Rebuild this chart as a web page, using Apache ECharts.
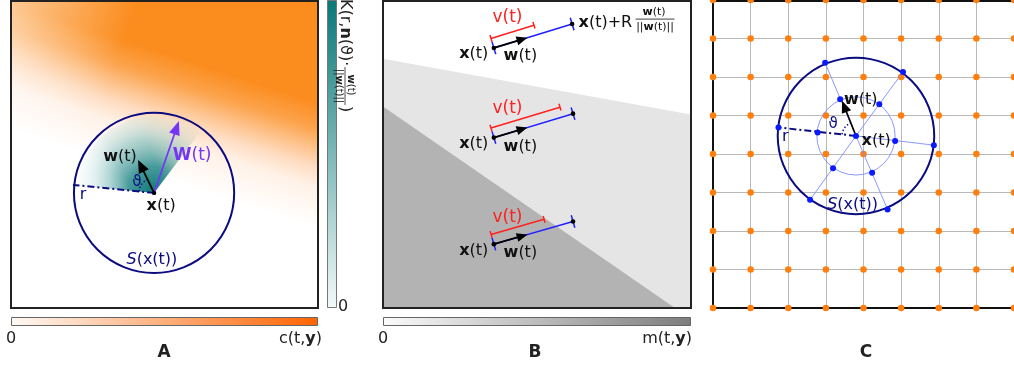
<!DOCTYPE html>
<html><head><meta charset="utf-8">
<script src="https://cdn.jsdelivr.net/npm/echarts@6/dist/echarts.min.js"></script>
<style>html,body{margin:0;padding:0;background:#fff}#c{width:1014px;height:365px}</style>
</head><body><div id="c"></div>
<script>
// ================= DATA =================
// Panel A (box axes 0..10 x 0..10)
const aCenter = [4.66, 3.75];
const aRadius = 2.61;
const aREnd = [2.02, 4.01];
const aWTip = [4.14, 4.82];       // w(t)
const aBigWTip = [5.47, 6.09];    // W(t)
const aWedgeEdge = 53;            // degrees, right edge of kernel wedge
const aWedgeRadius = 2.5;
// Panel B (box axes 0..10 x 0..10)
const bLightPoly = [[0,0],[0,8.12],[10,6.30],[10,0]];
const bDarkPoly = [[0,0],[0,6.56],[9.48,0]];
const bOrigins = [[3.60,8.47],[3.60,5.55],[3.60,2.08]];
const bEnds = [[6.14,9.25],[6.17,6.33],[6.17,2.82]];
const bVLengths = [1.46, 2.34, 1.79];
const bWLength = 1.14;
// Panel C (grid axes 0..8 x 0..8)
const cGridX = [0,1,2,3,4,5,6,7,8];
const cGridY = [0,1,2,3,4,5,6,7,8];
const cCenter = [3.80, 4.47];
const cOuterR = 2.08, cInnerR = 1.04;
const cInner = [[3.38,5.42],[4.42,5.29],[4.84,4.34],[4.23,3.51],[3.19,3.63],[2.78,4.56]];
const cOuter = [[2.98,6.37],[5.05,6.13],[5.87,4.23],[4.64,2.56],[2.58,2.81],[1.74,4.69]];
const cWTip = [3.43, 5.38];
// Texts
const labelW = '{b|w}{n|(t)}';
const labelBigW = '{b|W}{n|(t)}';
const labelX = '{b|x}{n|(t)}';
const labelV = 'v(t)';
const labelS = '{i|S}{n|(x(t))}';

// ================= HELPERS =================
const FONT = 'DejaVu Sans';
const NAVY = '#0b0b82';
function rich(color, size){
  return {
    b:{fontWeight:'bold',fill:color,fontSize:size,fontFamily:FONT},
    n:{fill:color,fontSize:size,fontFamily:FONT},
    i:{fontStyle:'italic',fill:color,fontSize:size,fontFamily:FONT}
  };
}
function txtStyle(text, color, size, align){
  return {text, fill:color, fontSize:size, fontFamily:FONT, align:align||'center', verticalAlign:'middle', rich:rich(color,size)};
}
function seg(p0,p1,stroke,lw,dash){
  return {type:'line',shape:{x1:p0[0],y1:p0[1],x2:p1[0],y2:p1[1]},style:{stroke,lineWidth:lw,lineDash:dash||null,fill:null}};
}
function dot(p,r,fill){ return {type:'circle',shape:{cx:p[0],cy:p[1],r},style:{fill}}; }
function arrowEls(p0,p1,color,lw,hl,hw){
  const dx=p1[0]-p0[0], dy=p1[1]-p0[1], L=Math.hypot(dx,dy), ux=dx/L, uy=dy/L;
  const bx=p1[0]-ux*hl, by=p1[1]-uy*hl;
  return [
    seg(p0,[bx+ux*2,by+uy*2],color,lw),
    {type:'polygon',shape:{points:[[p1[0],p1[1]],[bx-uy*hw/2,by+ux*hw/2],[bx+uy*hw/2,by-ux*hw/2]]},style:{fill:color}}
  ];
}
function ang(c,p){ return Math.atan2(p[1]-c[1], p[0]-c[0]); }
function custom(gi, data, renderItem, z){
  return {type:'custom',coordinateSystem:'cartesian2d',xAxisIndex:gi,yAxisIndex:gi,silent:true,z:z||2,clip:false,data,renderItem};
}
function labelSeries(gi, items){
  return custom(gi, items.map((it,i)=>[it.at[0],it.at[1],i]), (params,api)=>{
    const it = items[api.value(2)];
    const p = api.coord([api.value(0),api.value(1)]);
    return {type:'text',x:p[0],y:p[1],style:txtStyle(it.text,it.color||'#111',it.size||16,it.align)};
  }, 5);
}
function borderSeries(gi, color){
  return custom(gi, [[0,0]], (params,api)=>{
    const cs = params.coordSys;
    return {type:'rect',shape:{x:cs.x,y:cs.y,width:cs.width,height:cs.height},style:{fill:null,stroke:color,lineWidth:2}};
  }, 4);
}

// ================= SERIES =================
const series = [];
// ---- Panel A ----
series.push(custom(0, [[0,0]], (params,api)=>{
  const p0 = api.coord([0,10]), p1 = api.coord([10,0]);
  const shape = {x:p0[0],y:p0[1],width:p1[0]-p0[0],height:p1[1]-p0[1]};
  const cx = p0[0]+224, cy = p0[1]+54;          // field reference point
  const vx = -0.309, vy = 0.951, ux = 0.951, uy = 0.309;
  return {type:'group',children:[
    {type:'rect',shape,style:{fill:{type:'linear',global:true,x:cx+vx*140,y:cy+vy*140,x2:cx+vx*20,y2:cy+vy*20,colorStops:[
      {offset:0,color:'#ffffff'},{offset:0.33,color:'#fff1e6'},{offset:0.49,color:'#fedcc0'},{offset:0.625,color:'#fdc38d'},{offset:0.79,color:'#fca34c'},{offset:1,color:'#fb8d1f'}]}}},
    {type:'rect',shape,style:{fill:{type:'linear',global:true,x:cx-ux*250,y:cy-uy*250,x2:cx-ux*110,y2:cy-uy*110,colorStops:[
      {offset:0,color:'rgba(255,255,255,0.62)'},{offset:1,color:'rgba(255,255,255,0)'}]}}}
  ]};
}));
// kernel wedge
series.push(custom(0, [[aCenter[0],aCenter[1],aWedgeRadius]], (params,api)=>{
  const c = api.coord([api.value(0),api.value(1)]);
  const R = api.size([api.value(2),0])[0];
  const aStart = ang(c, api.coord(aREnd));
  const aEnd = -aWedgeEdge*Math.PI/180;
  const aW = ang(c, api.coord(aWTip));
  const shape = {cx:c[0],cy:c[1],r0:0,r:R,startAngle:aStart,endAngle:aEnd,clockwise:true};
  const eW = [Math.cos(aW),Math.sin(aW)];
  let nL = [-eW[1],eW[0]];
  const eL = [Math.cos(aStart),Math.sin(aStart)];
  if (nL[0]*eL[0]+nL[1]*eL[1] < 0) nL = [-nL[0],-nL[1]];
  const nR = [-nL[0],-nL[1]];
  const lin = (n,d0,d1,c0,c1)=>({type:'linear',global:true,x:c[0]+n[0]*d0,y:c[1]+n[1]*d0,x2:c[0]+n[0]*d1,y2:c[1]+n[1]*d1,
      colorStops:[{offset:0,color:c0},{offset:1,color:c1}]});
  return {type:'group',children:[
    {type:'sector',shape,style:{fill:{type:'radial',x:c[0],y:c[1],r:R,global:true,colorStops:[
      {offset:0,color:'rgba(12,120,120,1)'},{offset:0.35,color:'rgba(40,138,138,0.85)'},{offset:0.7,color:'rgba(110,180,178,0.55)'},{offset:1,color:'rgba(190,225,222,0.25)'}]}}},
    {type:'sector',shape,style:{fill:lin(nL,R*0.25,R*0.95,'rgba(255,255,255,0)','rgba(255,255,255,0.85)')}},
    {type:'sector',shape,style:{fill:lin(nR,R*0.2,R*0.8,'rgba(252,225,200,0)','rgba(252,225,200,0.55)')}}
  ]};
}));
// circle, r line, theta arc, arrows, center dot
series.push(custom(0, [[aCenter[0],aCenter[1],aRadius]], (params,api)=>{
  const c = api.coord([api.value(0),api.value(1)]);
  const R = api.size([api.value(2),0])[0];
  const rEnd = api.coord(aREnd), wT = api.coord(aWTip), WT = api.coord(aBigWTip);
  const a0 = ang(c,rEnd), a1 = ang(c,wT);
  return {type:'group',children:[
    {type:'circle',shape:{cx:c[0],cy:c[1],r:R},style:{fill:null,stroke:NAVY,lineWidth:2}},
    seg(c,rEnd,NAVY,2,[7,3,2,3]),
    {type:'arc',shape:{cx:c[0],cy:c[1],r:15,startAngle:a0,endAngle:a1,clockwise:true},style:{stroke:NAVY,lineWidth:1.4,lineDash:[1.5,2],fill:null}},
    ...arrowEls(c,WT,'#7436f5',1.6,14,11),
    ...arrowEls(c,wT,'#000000',1.8,13,11),
    dot(c,2.2,'#000')
  ]};
}, 3));
series.push(borderSeries(0,'#222'));
series.push(labelSeries(0,[
  {at:[3.55,4.92],text:labelW},
  {at:[5.90,4.95],text:labelBigW,color:'#7436f5',size:17},
  {at:[4.89,3.32],text:labelX},
  {at:[2.35,3.68],text:'r',color:NAVY},
  {at:[4.10,4.10],text:'ϑ',color:NAVY,size:15},
  {at:[4.59,1.56],text:labelS,color:NAVY,size:16}
]));

// ---- Panel B ----
series.push(custom(1, [[0,0]], (params,api)=>{
  const poly = (pts,fill)=>({type:'polygon',shape:{points:pts.map(p=>api.coord(p))},style:{fill}});
  return {type:'group',children:[poly(bLightPoly,'#e5e5e5'),poly(bDarkPoly,'#b3b3b3')]};
}));
series.push(custom(1, bOrigins.map((o,i)=>[o[0],o[1],bEnds[i][0],bEnds[i][1],bVLengths[i],bWLength]), (params,api)=>{
  const o = api.coord([api.value(0),api.value(1)]);
  const e = api.coord([api.value(2),api.value(3)]);
  const vPx = api.size([api.value(4),0])[0];
  const wPx = api.size([api.value(5),0])[0];
  const dx=e[0]-o[0], dy=e[1]-o[1], L=Math.hypot(dx,dy), ux=dx/L, uy=dy/L;
  const nx=uy, ny=-ux;
  const BL='#1f1fff', RD='#ff2020';
  const tick=(p,h,col)=>seg([p[0]-nx*h,p[1]-ny*h],[p[0]+nx*h,p[1]+ny*h],col,1.5);
  const rs=[o[0]+nx*10,o[1]+ny*10], re=[rs[0]+ux*vPx, rs[1]+uy*vPx];
  return {type:'group',children:[
    seg(o,e,BL,1.5), tick(o,6.5,BL), tick(e,6.5,BL),
    seg(rs,re,RD,1.5), tick(rs,3.5,RD), tick(re,3.5,RD),
    ...arrowEls(o,[o[0]+ux*wPx,o[1]+uy*wPx],'#000',1.8,11,9),
    dot(o,2.3,'#000'), dot(e,2.3,'#000')
  ]};
}, 3));
series.push(custom(1, [[6.35,9.28]], (params,api)=>{
  const p = api.coord([api.value(0),api.value(1)]);
  return {type:'group',children:[
    {type:'text',x:p[0],y:p[1],style:txtStyle('{b|x}{n|(t)+R}','#111',16,'left')},
    {type:'text',x:p[0]+75.5,y:p[1]-11,style:txtStyle('{b|w}{n|(t)}','#111',11,'center')},
    seg([p[0]+57,p[1]-4],[p[0]+96,p[1]-4],'#111',0.8),
    {type:'text',x:p[0]+76.5,y:p[1]+4.5,style:txtStyle('{n|||}{b|w}{n|(t)||}','#111',11,'center')}
  ]};
}, 5));
series.push(borderSeries(1,'#222'));
const bLab = [];
const bLabY = [[8.27,8.21,9.45],[5.34,5.24,6.48],[1.86,1.79,2.96]];
bLabY.forEach(r=>{
  bLab.push({at:[3.42,r[0]],text:labelX,align:'right'});
  bLab.push({at:[4.46,r[1]],text:labelW});
  bLab.push({at:[4.04,r[2]],text:labelV,color:'#ff2020',size:17});
});
series.push(labelSeries(1,bLab));

// ---- Panel C ----
series.push(custom(2, [[0,0]], (params,api)=>{
  const cs = params.coordSys;
  const L=cs.x, T=cs.y+1, B=cs.y+cs.height;
  return {type:'group',children:[
    seg([L,T],[L,B+1],'#111',2), seg([L-1,B],[cs.x+cs.width,B],'#111',2), seg([L-1,T],[cs.x+cs.width,T],'#111',2)
  ]};
}, 2));
const cDots = [];
cGridX.forEach(x=>cGridY.forEach(y=>cDots.push([x,y])));
series.push({type:'scatter',xAxisIndex:2,yAxisIndex:2,data:cDots,symbolSize:6.5,itemStyle:{color:'#ff7f0e',opacity:1},silent:true,z:3,clip:false});
series.push(custom(2, [[cCenter[0],cCenter[1],cOuterR,cInnerR]], (params,api)=>{
  const c = api.coord([api.value(0),api.value(1)]);
  const R = api.size([api.value(2),0])[0], r = api.size([api.value(3),0])[0];
  const outs = cOuter.map(p=>api.coord(p)), ins = cInner.map(p=>api.coord(p));
  const wT = api.coord(cWTip);
  const LB = '#7d8cff';
  const ch = [];
  ch.push({type:'circle',shape:{cx:c[0],cy:c[1],r},style:{fill:null,stroke:LB,lineWidth:0.9}});
  outs.slice(0,5).forEach(p=>ch.push(seg(c,p,LB,0.9)));
  ch.push({type:'circle',shape:{cx:c[0],cy:c[1],r:R},style:{fill:null,stroke:NAVY,lineWidth:2}});
  ch.push(seg(c,outs[5],NAVY,2,[7,3,2,3]));
  ch.push({type:'arc',shape:{cx:c[0],cy:c[1],r:14,startAngle:ang(c,outs[5]),endAngle:ang(c,wT),clockwise:true},style:{stroke:NAVY,lineWidth:1.4,lineDash:[1.5,2],fill:null}});
  ins.concat(outs).forEach(p=>ch.push(dot(p,3,'#0a1aff')));
  ch.push(...arrowEls(c,wT,'#000',1.6,12,10));
  ch.push(dot(c,3,'#0a1aff'));
  return {type:'group',children:ch};
}, 4));
series.push(labelSeries(2,[
  {at:[3.48,5.40],text:labelW,align:'left'},
  {at:[3.95,4.34],text:labelX,align:'left'},
  {at:[1.92,4.44],text:'r',color:NAVY},
  {at:[3.19,4.78],text:'ϑ',color:NAVY,size:15},
  {at:[3.71,2.68],text:labelS,color:NAVY,size:16}
]));

// ================= GRAPHIC (colour bars and captions) =================
function gtext(x,y,text,size,align,color){
  return {type:'text',x,y,silent:true,style:Object.assign(txtStyle(text,color||'#222',size,align),{textAlign:align,textVerticalAlign:'middle'})};
}
const graphic = [
  {type:'rect',shape:{x:11.5,y:317.5,width:306,height:8},style:{fill:{type:'linear',x:0,y:0,x2:1,y2:0,colorStops:[{offset:0,color:'#fffaf6'},{offset:1,color:'#ff6300'}]},stroke:'#666',lineWidth:1}},
  {type:'rect',shape:{x:383.5,y:317.5,width:307,height:8},style:{fill:{type:'linear',x:0,y:0,x2:1,y2:0,colorStops:[{offset:0,color:'#fbfbfb'},{offset:1,color:'#7d7d7d'}]},stroke:'#666',lineWidth:1}},
  {type:'rect',shape:{x:327.5,y:0.5,width:9,height:307},style:{fill:{type:'linear',x:0,y:0,x2:0,y2:1,colorStops:[{offset:0,color:'#077877'},{offset:1,color:'#f3f9f9'}]},stroke:'#777',lineWidth:1}},
  gtext(11,339,'0',16,'center'),
  gtext(322,339,'{n|c(t,}{b|y}{n|)}',16,'right'),
  gtext(164,353,'{b|A}',17,'center'),
  gtext(383,339,'0',16,'center'),
  gtext(692,339,'{n|m(t,}{b|y}{n|)}',16,'right'),
  gtext(535,353,'{b|B}',17,'center'),
  gtext(866,353,'{b|C}',17,'center'),
  gtext(338,307,'0',16,'left'),
  {type:'group',x:345,y:-1,rotation:-Math.PI/2,silent:true,children:[
    gtext(0,0,'{n|K(r,}{b|n}{n|(ϑ)·}',16,'left'),
    gtext(86,-6,'{b|w}{n|(t)}',10,'center'),
    {type:'line',shape:{x1:68,y1:0,x2:106,y2:0},style:{stroke:'#222',lineWidth:0.8}},
    gtext(87,6,'{n|||}{b|w}{n|(t)||}',10,'center'),
    gtext(107,0,')',16,'left')
  ]}
];

const chart = echarts.init(document.getElementById('c'), null, {renderer:'canvas',width:1014,height:365});
const hid = {type:'value',min:0,max:10,show:false};
const cAx = {type:'value',min:0,max:8,interval:1,axisLine:{show:false},axisTick:{show:false},axisLabel:{show:false},splitLine:{show:true,lineStyle:{color:'#b9b9b9',width:1}}};
chart.setOption({
  animation:false,
  grid:[{left:11,top:1,width:307,height:307},{left:383,top:1,width:308,height:307},{left:713,top:0,width:308,height:308}],
  xAxis:[Object.assign({gridIndex:0},hid),Object.assign({gridIndex:1},hid),Object.assign({gridIndex:2},cAx)],
  yAxis:[Object.assign({gridIndex:0},hid),Object.assign({gridIndex:1},hid),Object.assign({gridIndex:2},cAx)],
  graphic,
  series
});
</script></body></html>
